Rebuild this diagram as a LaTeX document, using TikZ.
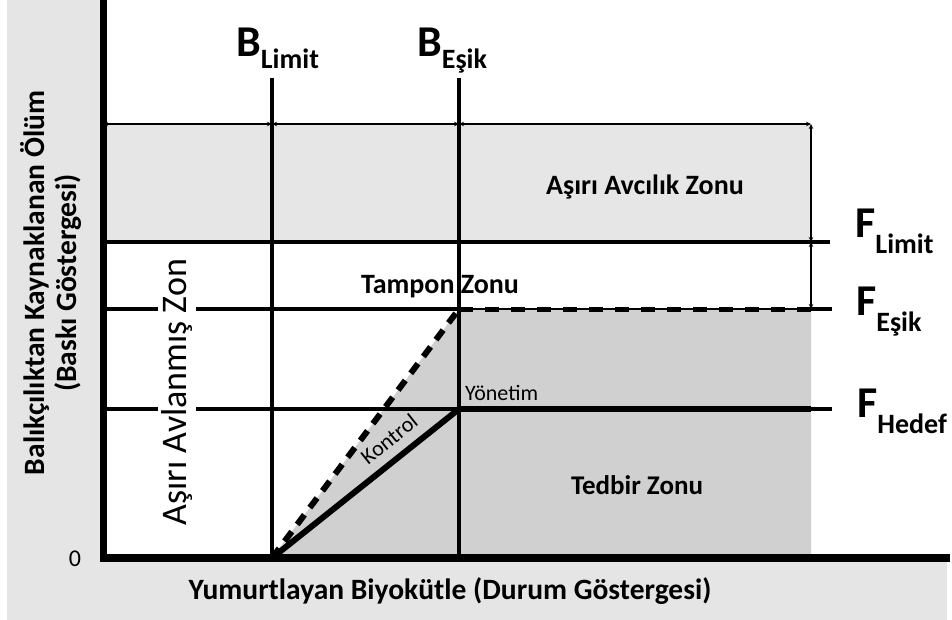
\documentclass[tikz,border=0pt]{standalone}
\usepackage{fontspec}
\setmainfont{Carlito}
\usetikzlibrary{arrows.meta}
\definecolor{bgray}{HTML}{E5E5E5}
\definecolor{zgray}{HTML}{E6E6E6}
\definecolor{dgray}{HTML}{D0D0D0}
\newcommand{\fsz}[1]{\fontsize{#1}{#1}\selectfont}
\begin{document}
\begin{tikzpicture}[x=1pt,y=-1pt,
  vline/.style={line width=3.8pt},
  hline/.style={line width=3.8pt},
  axisline/.style={line width=7.5pt},
  dimline/.style={line width=1.4pt,{Stealth[length=5pt,width=4.5pt]}-{Stealth[length=5pt,width=4.5pt]}},
  zonetext/.style={font=\bfseries\fsz{28}, inner sep=0pt, anchor=base},
  axlabel/.style={font=\bfseries\fsz{29.5}, inner sep=0pt},
  reflabel/.style={font=\bfseries\fsz{44}, inner sep=0pt, anchor=base west},
]
\useasboundingbox (0,0) rectangle (952,620);
\fill[white] (0,0) rectangle (952,620);
\fill[bgray] (7,0) rectangle (947,620);
\fill[white] (103,0) rectangle (947,558);
\fill[zgray] (107,124) rectangle (811,242);
\fill[dgray] (272,558) -- (459,309) -- (811,309) -- (811,558) -- cycle;

% coordinates
\coordinate (axtop) at (103.5,0);
\coordinate (origin) at (103.5,558);
\coordinate (axright) at (950,558);
\coordinate (bltop) at (272,78);
\coordinate (blbot) at (272,558);
\coordinate (betop) at (459,78);
\coordinate (bebot) at (459,558);
\coordinate (topl) at (103,124);
\coordinate (topbl) at (272,124);
\coordinate (topbe) at (459,124);
\coordinate (topr) at (811,124);
\coordinate (fll) at (103,242);
\coordinate (fld) at (811,242);
\coordinate (flr) at (830,242);
\coordinate (fel) at (103,309);
\coordinate (fem) at (459,309);
\coordinate (fed) at (811,309);
\coordinate (fer) at (832,309);
\coordinate (fhl) at (103,409);
\coordinate (fhm) at (459,409);
\coordinate (fhd) at (811,409);
\coordinate (fhr) at (832,409);

% reference lines
\draw[hline] (fll) -- (flr);
\draw[hline] (fel) -- (fem);
\draw[line width=1.6pt] (fem) -- (fed);
\draw[line width=5pt, dash pattern=on 14pt off 12pt] (fem) -- (fed);
\draw[hline] (fed) -- (fer);
\draw[hline] (fhl) -- (fhm);
\draw[line width=6.5pt] (fhm) -- (fhd);
\draw[hline] (fhd) -- (fhr);

% dimension arrows
\draw[dimline] (topl) -- (topbl);
\draw[dimline] (topbl) -- (topbe);
\draw[dimline] (topbe) -- (topr);
\draw[dimline] (fld) -- (topr);
\draw[dimline] (fed) -- (fld);

% control rule
\draw[line width=6pt, dash pattern=on 12pt off 9pt] (blbot) -- (fem);
\draw[line width=6pt] (blbot) -- (fhm);

% zone label with white background
\node[font=\fsz{36}, rotate=90, fill=white, inner sep=3pt] (avl) at (177,392) {Aşırı Avlanmış Zon};

% vertical reference lines
\draw[vline] (bltop) -- (blbot);
\draw[vline] (betop) -- (bebot);

% axes
\draw[axisline] (axtop) -- (103.5,561.75);
\draw[axisline] (100,558) -- (axright);

% texts
\node[zonetext] (avc) at (645,195) {Aşırı Avcılık Zonu};
\node[zonetext] (tampon) at (440,293) {Tampon Zonu};
\node[zonetext, font=\bfseries\fsz{27}] (tedbir) at (637,494) {Tedbir Zonu};
\node[font=\fsz{22}, inner sep=0pt, anchor=base west] (yon) at (465,400) {Yönetim};
\node[font=\fsz{22}, inner sep=0pt, rotate=38.5] (kon) at (389,439) {Kontrol};

\node[reflabel] (blim) at (236,57) {B\raisebox{-12pt}{\fsz{28}Limit}};
\node[reflabel] (besik) at (417,57) {B\raisebox{-12pt}{\fsz{28}Eşik}};
\node[reflabel] (flim) at (855,237) {F\raisebox{-16pt}{\fsz{28}Limit}};
\node[reflabel] (fesik) at (856,315) {F\raisebox{-16pt}{\fsz{28}Eşik}};
\node[reflabel] (fhed) at (857,417) {F\raisebox{-16pt}{\fsz{28}Hedef}};

\node[axlabel, rotate=90, align=center] (ylab) at (51,283) {Balıkçılıktan Kaynaklanan Ölüm\\[3pt](Baskı Göstergesi)};
\node[axlabel, anchor=base] (xlab) at (450,599) {Yumurtlayan Biyokütle (Durum Göstergesi)};
\node[font=\fsz{24}, inner sep=0pt] (zero) at (75,559) {0};
\end{tikzpicture}
\end{document}
